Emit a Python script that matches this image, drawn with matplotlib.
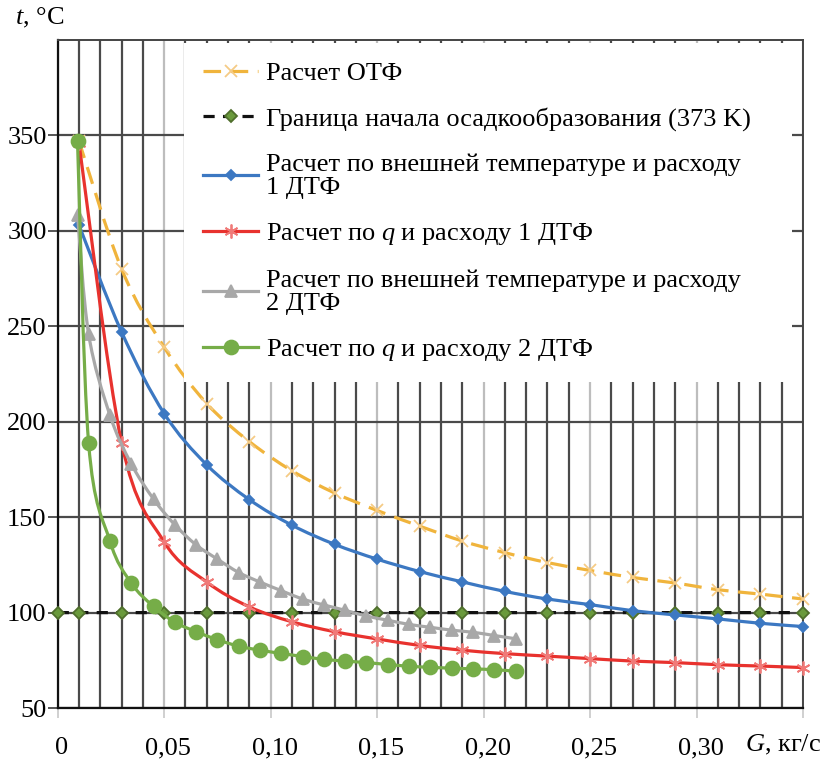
import numpy as np
import matplotlib
matplotlib.use('Agg')
import matplotlib.pyplot as plt
import matplotlib.transforms as mtransforms
from matplotlib.path import Path
from matplotlib.patches import PathPatch
from matplotlib.lines import Line2D
from matplotlib.ticker import MultipleLocator, FixedLocator, FixedFormatter

plt.rcParams['font.family'] = ['Liberation Serif', 'DejaVu Serif']
plt.rcParams['mathtext.fontset'] = 'custom'
plt.rcParams['mathtext.rm'] = 'Liberation Serif'
plt.rcParams['mathtext.it'] = 'Liberation Serif:italic'

# G, kg/s  (series with 1 DTF and the OTF calculation)
g_1dtf = [0.01, 0.03, 0.05, 0.07, 0.09, 0.11, 0.13, 0.15, 0.17, 0.19, 0.21,
          0.23, 0.25, 0.27, 0.29, 0.31, 0.33, 0.35]
t_otf = [347, 280, 239, 209.5, 189.6, 174.3, 162.7, 153.5, 145.3, 137.5, 131.4,
         126.2, 122.1, 118.4, 115.5, 112, 109.7, 107.1]
t_ext_1 = [303, 247, 204.3, 177.4, 159.2, 145.8, 135.8, 128, 121.5, 116.1, 111.1,
           107.1, 104.2, 101, 98.8, 96.7, 94.4, 92.7]
t_q_1 = [346, 189, 137, 116, 103, 95.2, 90, 86.2, 82.8, 80.3, 78.5,
         77.2, 75.9, 74.6, 73.8, 72.7, 72, 71.2]

# series with 2 DTF
g_2dtf = [0.0093, 0.0145, 0.0245, 0.0345, 0.045, 0.055, 0.065, 0.075, 0.085, 0.095,
          0.105, 0.115, 0.125, 0.135, 0.145, 0.155, 0.165, 0.175, 0.185, 0.195,
          0.205, 0.215]
t_ext_2 = [308.5, 246, 203.5, 178, 159.5, 146, 135.5, 128, 121, 116,
           111.5, 107.1, 104, 101.2, 98.2, 96, 93.8, 92.3, 90.8, 89.7,
           88, 86.3]
t_q_2 = [347, 189, 137.5, 115.5, 103.2, 95, 90, 85.8, 82.4, 80.3,
         78.6, 77, 75.5, 74.6, 73.8, 72.8, 71.9, 71.3, 70.9, 70.5,
         70.1, 69.3]

# 373 K boundary
g_border = [0, 0.01, 0.03, 0.05, 0.07, 0.09, 0.11, 0.13, 0.15, 0.17, 0.19,
            0.21, 0.23, 0.25, 0.27, 0.29, 0.31, 0.33, 0.35]
t_border = [100, 100, 100, 100, 100, 100, 100, 100, 100, 100, 100,
            100, 100, 100, 100, 100, 100, 100, 100]

labels = ['Расчет ОТФ',
          'Граница начала осадкообразования (373 K)',
          'Расчет по внешней температуре и расходу\n1 ДТФ',
          'Расчет по $q$ и расходу 1 ДТФ',
          'Расчет по внешней температуре и расходу\n2 ДТФ',
          'Расчет по $q$ и расходу 2 ДТФ']

x_ticks = [0, 0.05, 0.10, 0.15, 0.20, 0.25, 0.30, 0.35]
x_tick_labels = ['0', '0,05', '0,10', '0,15', '0,20', '0,25', '0,30', '']
y_ticks = [50, 100, 150, 200, 250, 300, 350]


def smooth(x, y):
    # excel-like smoothed line (catmull-rom as cubic bezier)
    p = np.column_stack([x, y]).astype(float)
    ext = np.vstack([p[0], p, p[-1]])
    verts = [p[0]]
    codes = [Path.MOVETO]
    for i in range(len(p) - 1):
        p0, p1, p2, p3 = ext[i], ext[i + 1], ext[i + 2], ext[i + 3]
        verts += [p1 + (p2 - p0) / 6, p2 - (p3 - p1) / 6, p2]
        codes += [Path.CURVE4] * 3
    return Path(verts, codes)


fig = plt.figure(figsize=(8.21, 7.61), dpi=100)
ax = fig.add_axes([0.0703, 0.0696, 0.9078, 0.8778])

series = [
    # x, y, line colour, dash, marker, marker size, marker face, marker edge
    (g_1dtf, t_otf, '#F0B43C', (0, (5.5, 3)), 'x', 8, '#F5CB85', '#F5CB85'),
    (g_border, t_border, '#111111', (0, (3.5, 2.6)), 'D', 6, '#6A9A3C', '#4F6E2C'),
    (g_1dtf, t_ext_1, '#3C78C2', '-', 'D', 5.5, '#3C78C2', '#3C78C2'),
    (g_1dtf, t_q_1, '#E8322E', '-', (6, 2, 0), 10, '#F07A78', '#F07A78'),
    (g_2dtf, t_ext_2, '#A8A8A8', '-', '^', 9, '#A8A8A8', '#A8A8A8'),
    (g_2dtf, t_q_2, '#76AD48', '-', 'o', 10, '#76AD48', '#76AD48'),
]

handles = []
for k, (x, y, col, ls, mk, ms, mfc, mec) in enumerate(series):
    z = 3 + k
    patch = PathPatch(smooth(x, y), fill=False, edgecolor=col, lw=2.3,
                      linestyle=ls, zorder=z, capstyle='butt')
    ax.add_patch(patch)
    ax.plot(x, y, ls='none', marker=mk, ms=ms, mfc=mfc, mec=mec, mew=1.3,
            zorder=z + 0.5, clip_on=False)
    handles.append(Line2D([], [], color=col, lw=2.3, ls=ls, marker=mk,
                          ms=ms, mfc=mfc, mec=mec, mew=1.3))

ax.set_xlim(0, 0.35)
ax.set_ylim(50, 400)

ax.xaxis.set_major_locator(FixedLocator(x_ticks))
ax.xaxis.set_major_formatter(FixedFormatter(x_tick_labels))
ax.xaxis.set_minor_locator(MultipleLocator(0.01))
ax.yaxis.set_major_locator(FixedLocator(y_ticks))

ax.set_axisbelow(True)
ax.grid(which='major', axis='x', color='#BDBDBD', lw=1.6)
ax.grid(which='minor', axis='x', color='#4A4A4A', lw=1.6)
ax.grid(which='major', axis='y', color='#4A4A4A', lw=1.6)

ax.tick_params(axis='y', direction='out', length=7, width=1.4, color='#555555',
               pad=1, labelsize=19)
ax.tick_params(axis='x', which='major', direction='out', length=7, width=1.2,
               color='#C8C8C8', pad=14, labelsize=19)
ax.tick_params(axis='x', which='minor', length=0)

for lab in ax.get_xticklabels():
    lab.set_transform(lab.get_transform() +
                      mtransforms.ScaledTranslation(4 / 100, 0, fig.dpi_scale_trans))

for side in ['left', 'bottom']:
    ax.spines[side].set_color('#111111')
    ax.spines[side].set_linewidth(1.6)
for side in ['right', 'top']:
    ax.spines[side].set_color('#444444')
    ax.spines[side].set_linewidth(1.4)

leg = ax.legend(handles, labels, loc='upper left',
                bbox_to_anchor=(0.170, 0.0, 0.815, 0.995), mode='expand',
                frameon=True, framealpha=1, facecolor='white', edgecolor='none',
                fancybox=False, fontsize=19, handlelength=2.1, handletextpad=0.3,
                borderpad=0.7, labelspacing=0.83, numpoints=1, borderaxespad=0)
leg.set_zorder(20)
for txt in leg.get_texts():
    txt.set_linespacing(1.1)

fig.text(15 / 821, 1 - 18 / 761, '$t$, °C', fontsize=19, ha='left', va='center')
fig.text(783 / 821, 1 - 745 / 761, '$G$, кг/с', fontsize=19, ha='center', va='center')

fig.savefig('out.png', dpi=100)
